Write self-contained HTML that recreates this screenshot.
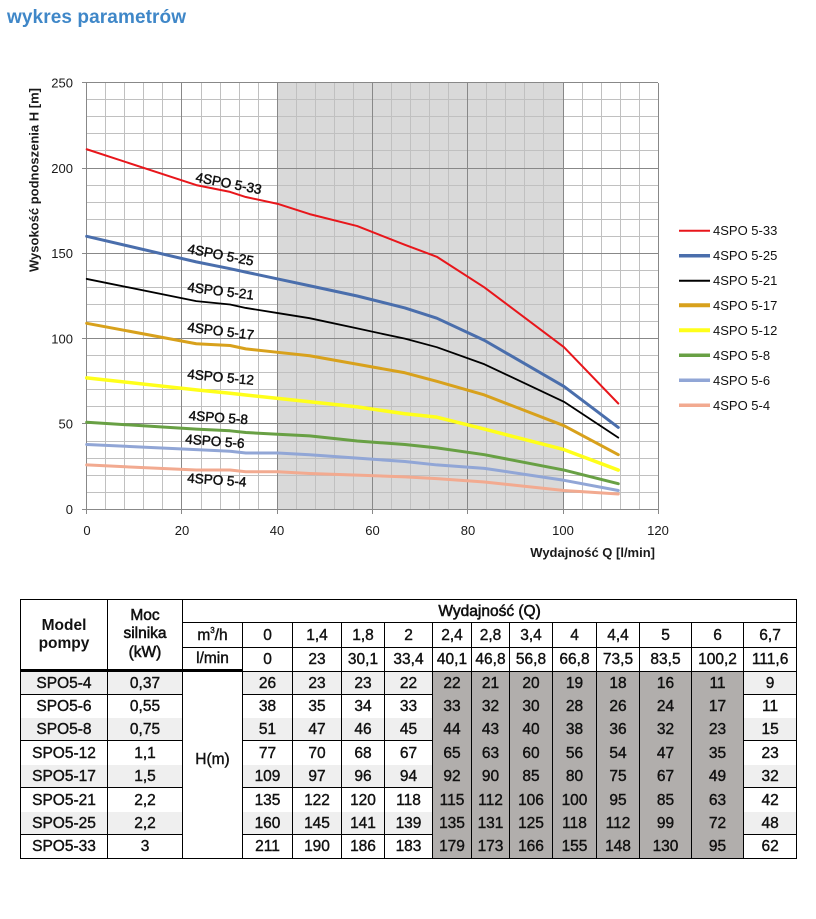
<!DOCTYPE html>
<html><head><meta charset="utf-8">
<style>
html,body{margin:0;padding:0;background:#fff;}
body{width:816px;height:919px;position:relative;overflow:hidden;font-family:"Liberation Sans",Arial,sans-serif;}
.title{position:absolute;left:7px;top:7px;font-size:19px;font-weight:bold;color:#3f87c8;letter-spacing:0.1px;}
svg text{font-family:"Liberation Sans",Arial,sans-serif;}
#t{position:absolute;left:20px;top:599px;border-collapse:separate;border-spacing:0;table-layout:fixed;width:776px;border-left:1px solid #000;border-top:1px solid #000;}
#t td{border-right:1px solid #000;border-bottom:1px solid #000;padding:0;text-align:center;vertical-align:middle;font-size:15.5px;color:#111;-webkit-text-stroke:0.4px #111;white-space:nowrap;line-height:17px;}
#t td.hb{font-weight:bold;-webkit-text-stroke:0;line-height:18px;border-bottom:3px solid #000;}
#t td.hm{line-height:18.5px;border-bottom:3px solid #000;-webkit-text-stroke:0.55px #111;}
#t td.wq{-webkit-text-stroke:0.55px #111;}
#t tr.r3 td.k{border-bottom:3px solid #000;}
#t td.z{background:#efefef;}
#t td.g{background:#b1aeac;border-bottom:none;}
#t tr.w td.n{border-bottom:none;}
#t tr.last td{border-bottom:1px solid #000;}
#t td.h{border-bottom:1px solid #000;padding-bottom:12px;}
sup{font-size:8px;vertical-align:7px;line-height:0;}
</style></head>
<body>
<div class="title">wykres parametrów</div>

<svg width="816" height="580" style="position:absolute;left:0;top:0" xmlns="http://www.w3.org/2000/svg">
<rect x="277" y="83" width="286" height="426" fill="#d9d9d9"/>
<g fill="none" stroke="#c0c0c0" stroke-width="1">
<path d="M105.5 83V509M124.5 83V509M143.5 83V509M162.5 83V509M201.5 83V509M220.5 83V509M239.5 83V509M258.5 83V509M296.5 83V509M315.5 83V509M334.5 83V509M353.5 83V509M391.5 83V509M410.5 83V509M429.5 83V509M448.5 83V509M486.5 83V509M505.5 83V509M524.5 83V509M543.5 83V509M582.5 83V509M601.5 83V509M620.5 83V509M639.5 83V509"/>
<path d="M87 492.5H658M87 475.5H658M87 458.5H658M87 441.5H658M87 406.5H658M87 389.5H658M87 372.5H658M87 355.5H658M87 321.5H658M87 304.5H658M87 287.5H658M87 270.5H658M87 236.5H658M87 219.5H658M87 202.5H658M87 185.5H658M87 150.5H658M87 133.5H658M87 116.5H658M87 99.5H658"/>
</g>
<g fill="none" stroke="#888" stroke-width="1">
<path d="M181.5 83V509M277.5 83V509M372.5 83V509M467.5 83V509M563.5 83V509M658.5 83V509"/>
<path d="M87 423.5H658M87 338.5H658M87 253.5H658M87 168.5H658M87 82.5H658"/>
<path d="M86.5 82V510M82 509.5H658.5"/>
<path d="M82 82.5H87M82 168.5H87M82 253.5H87M82 338.5H87M82 423.5H87"/>
<path d="M86.5 509V514M181.5 509V514M277.5 509V514M372.5 509V514M467.5 509V514M563.5 509V514M658.5 509V514"/>
</g>

<g font-size="13" fill="#1a1a1a" text-anchor="end">
<text x="73" y="87.5">250</text>
<text x="73" y="173">200</text>
<text x="73" y="258">150</text>
<text x="73" y="343.5">100</text>
<text x="73" y="428.5">50</text>
<text x="73" y="514">0</text>
</g>
<g font-size="13" fill="#1a1a1a" text-anchor="middle">
<text x="87" y="535">0</text>
<text x="182" y="535">20</text>
<text x="277" y="535">40</text>
<text x="372.5" y="535">60</text>
<text x="468" y="535">80</text>
<text x="563" y="535">100</text>
<text x="658" y="535">120</text>
</g>
<text x="655" y="557" font-size="13" font-weight="bold" fill="#1a1a1a" text-anchor="end">Wydajność Q [l/min]</text>
<text transform="translate(38.5,180) rotate(-90)" font-size="13" font-weight="bold" fill="#1a1a1a" text-anchor="middle">Wysokość podnoszenia H [m]</text>

<g transform="translate(86.7,509.3) scale(4.7633,-1.7064)" fill="none" stroke-linejoin="round" stroke-linecap="round">
<polyline vector-effect="non-scaling-stroke" stroke="#f2aa90" stroke-width="3" points="0,26 23,23 30.1,23 33.4,22 40.1,22 46.8,21 56.8,20 66.8,19 73.5,18 83.5,16 100.2,11 111.6,9"/>
<polyline vector-effect="non-scaling-stroke" stroke="#91a6d6" stroke-width="3" points="0,38 23,35 30.1,34 33.4,33 40.1,33 46.8,32 56.8,30 66.8,28 73.5,26 83.5,24 100.2,17 111.6,11"/>
<polyline vector-effect="non-scaling-stroke" stroke="#68a044" stroke-width="3" points="0,51 23,47 30.1,46 33.4,45 40.1,44 46.8,43 56.8,40 66.8,38 73.5,36 83.5,32 100.2,23 111.6,15"/>
<polyline vector-effect="non-scaling-stroke" stroke="#ffff1a" stroke-width="3.5" points="0,77 23,70 30.1,68 33.4,67 40.1,65 46.8,63 56.8,60 66.8,56 73.5,54 83.5,47 100.2,35 111.6,23"/>
<polyline vector-effect="non-scaling-stroke" stroke="#d8a11c" stroke-width="3" points="0,109 23,97 30.1,96 33.4,94 40.1,92 46.8,90 56.8,85 66.8,80 73.5,75 83.5,67 100.2,49 111.6,32"/>
<polyline vector-effect="non-scaling-stroke" stroke="#000" stroke-width="1.8" points="0,135 23,122 30.1,120 33.4,118 40.1,115 46.8,112 56.8,106 66.8,100 73.5,95 83.5,85 100.2,63 111.6,42"/>
<polyline vector-effect="non-scaling-stroke" stroke="#4a6eac" stroke-width="3" points="0,160 23,145 30.1,141 33.4,139 40.1,135 46.8,131 56.8,125 66.8,118 73.5,112 83.5,99 100.2,72 111.6,48"/>
<polyline vector-effect="non-scaling-stroke" stroke="#e8161b" stroke-width="2" points="0,211 23,190 30.1,186 33.4,183 40.1,179 46.8,173 56.8,166 66.8,155 73.5,148 83.5,130 100.2,95 111.6,62"/>
</g>

<g font-size="13.5" fill="#111" stroke="#111" stroke-width="0.45">
<text transform="translate(195,181.5) rotate(11)">4SPO 5-33</text>
<text transform="translate(187,253) rotate(11)">4SPO 5-25</text>
<text transform="translate(187,291.5) rotate(7)">4SPO 5-21</text>
<text transform="translate(187,331.5) rotate(7)">4SPO 5-17</text>
<text transform="translate(187,378.5) rotate(5.5)">4SPO 5-12</text>
<text transform="translate(188.5,420) rotate(4)">4SPO 5-8</text>
<text transform="translate(185,443.5) rotate(4.5)">4SPO 5-6</text>
<text transform="translate(187,482.5) rotate(4)">4SPO 5-4</text>
</g>

<g stroke-linecap="butt">
<line x1="679" y1="230.7" x2="710" y2="230.7" stroke="#e8161b" stroke-width="2"/>
<line x1="679" y1="255.7" x2="710" y2="255.7" stroke="#4a6eac" stroke-width="3.5"/>
<line x1="679" y1="280.7" x2="710" y2="280.7" stroke="#000" stroke-width="2"/>
<line x1="679" y1="305.3" x2="710" y2="305.3" stroke="#d8a11c" stroke-width="4"/>
<line x1="679" y1="330.3" x2="710" y2="330.3" stroke="#ffff1a" stroke-width="4"/>
<line x1="679" y1="355.3" x2="710" y2="355.3" stroke="#68a044" stroke-width="3.5"/>
<line x1="679" y1="380.3" x2="710" y2="380.3" stroke="#91a6d6" stroke-width="3.5"/>
<line x1="679" y1="405.3" x2="710" y2="405.3" stroke="#f2aa90" stroke-width="3.5"/>
</g>
<g font-size="13" fill="#111">
<text x="713" y="235.2">4SPO 5-33</text>
<text x="713" y="260.2">4SPO 5-25</text>
<text x="713" y="285.2">4SPO 5-21</text>
<text x="713" y="309.8">4SPO 5-17</text>
<text x="713" y="334.8">4SPO 5-12</text>
<text x="713" y="359.8">4SPO 5-8</text>
<text x="713" y="384.8">4SPO 5-6</text>
<text x="713" y="409.8">4SPO 5-4</text>
</g>
</svg>

<table id="t">
<colgroup>
<col style="width:87px"><col style="width:75px"><col style="width:60px"><col style="width:50px"><col style="width:49px"><col style="width:43px"><col style="width:48px"><col style="width:39px"><col style="width:38px"><col style="width:43px"><col style="width:44px"><col style="width:43px"><col style="width:52px"><col style="width:52px"><col style="width:53px">
</colgroup>
<tr style="height:23px">
<td rowspan="3" class="hb">Model<br>pompy</td>
<td rowspan="3" class="hm">Moc<br>silnika<br>(kW)</td>
<td colspan="13" class="wq">Wydajność (Q)</td>
</tr>
<tr style="height:25px">
<td>m<sup>3</sup>/h</td><td>0</td><td>1,4</td><td>1,8</td><td>2</td><td>2,4</td><td>2,8</td><td>3,4</td><td>4</td><td>4,4</td><td>5</td><td>6</td><td>6,7</td>
</tr>
<tr style="height:24px" class="r3">
<td class="k">l/min</td><td>0</td><td>23</td><td>30,1</td><td>33,4</td><td>40,1</td><td>46,8</td><td>56,8</td><td>66,8</td><td>73,5</td><td>83,5</td><td>100,2</td><td>111,6</td>
</tr>
<tr style="height:23px">
<td class="z">SPO5-4</td><td class="z">0,37</td><td rowspan="8" class="h">H(m)</td><td class="z">26</td><td class="z">23</td><td class="z">23</td><td class="z">22</td><td class="g">22</td><td class="g">21</td><td class="g">20</td><td class="g">19</td><td class="g">18</td><td class="g">16</td><td class="g">11</td><td class="z">9</td>
</tr>
<tr style="height:23px" class="w">
<td class="n">SPO5-6</td><td class="n">0,55</td><td class="n">38</td><td class="n">35</td><td class="n">34</td><td class="n">33</td><td class="g">33</td><td class="g">32</td><td class="g">30</td><td class="g">28</td><td class="g">26</td><td class="g">24</td><td class="g">17</td><td class="n">11</td>
</tr>
<tr style="height:23px">
<td class="z">SPO5-8</td><td class="z">0,75</td><td class="z">51</td><td class="z">47</td><td class="z">46</td><td class="z">45</td><td class="g">44</td><td class="g">43</td><td class="g">40</td><td class="g">38</td><td class="g">36</td><td class="g">32</td><td class="g">23</td><td class="z">15</td>
</tr>
<tr style="height:24px" class="w">
<td class="n">SPO5-12</td><td class="n">1,1</td><td class="n">77</td><td class="n">70</td><td class="n">68</td><td class="n">67</td><td class="g">65</td><td class="g">63</td><td class="g">60</td><td class="g">56</td><td class="g">54</td><td class="g">47</td><td class="g">35</td><td class="n">23</td>
</tr>
<tr style="height:23px">
<td class="z">SPO5-17</td><td class="z">1,5</td><td class="z">109</td><td class="z">97</td><td class="z">96</td><td class="z">94</td><td class="g">92</td><td class="g">90</td><td class="g">85</td><td class="g">80</td><td class="g">75</td><td class="g">67</td><td class="g">49</td><td class="z">32</td>
</tr>
<tr style="height:24px" class="w">
<td class="n">SPO5-21</td><td class="n">2,2</td><td class="n">135</td><td class="n">122</td><td class="n">120</td><td class="n">118</td><td class="g">115</td><td class="g">112</td><td class="g">106</td><td class="g">100</td><td class="g">95</td><td class="g">85</td><td class="g">63</td><td class="n">42</td>
</tr>
<tr style="height:23px">
<td class="z">SPO5-25</td><td class="z">2,2</td><td class="z">160</td><td class="z">145</td><td class="z">141</td><td class="z">139</td><td class="g">135</td><td class="g">131</td><td class="g">125</td><td class="g">118</td><td class="g">112</td><td class="g">99</td><td class="g">72</td><td class="z">48</td>
</tr>
<tr style="height:24px" class="last">
<td>SPO5-33</td><td>3</td><td>211</td><td>190</td><td>186</td><td>183</td><td class="g">179</td><td class="g">173</td><td class="g">166</td><td class="g">155</td><td class="g">148</td><td class="g">130</td><td class="g">95</td><td>62</td>
</tr>
</table>
</body></html>
